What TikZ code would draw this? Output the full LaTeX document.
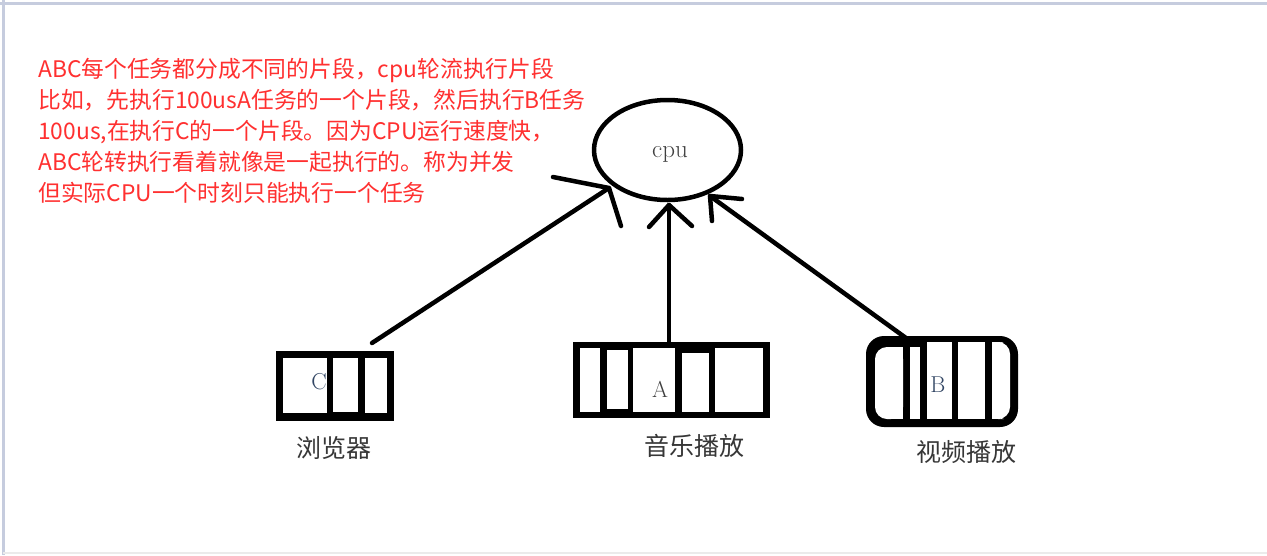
\documentclass[tikz,border=0pt]{standalone}
\usepackage{fontspec}
\newfontfamily\cjk{Noto Sans CJK SC}
\usetikzlibrary{shapes.geometric}
\definecolor{redtxt}{RGB}{255,48,48}
\definecolor{labeltxt}{RGB}{55,55,55}
\definecolor{lettertxt}{RGB}{50,70,100}
\definecolor{frame}{RGB}{198,204,222}
\tikzset{
  pen/.style={line width=4.5pt, line cap=round, line join=round, black},
  redline/.style={anchor=base west, inner sep=0pt, text=redtxt, font=\cjk\fontsize{22.8}{31}\selectfont},
  label/.style={inner sep=0pt, text=labeltxt, font=\cjk\fontsize{25}{25}\selectfont},
  letter/.style={inner sep=0pt, text=lettertxt, font=\fontsize{23}{23}\selectfont},
  cell/.style={fill=white},
}
\begin{document}
\begin{tikzpicture}[x=1pt,y=-1pt]
\useasboundingbox (0,0) rectangle (1267,555);
\fill[white] (0,0) rectangle (1267,555);
% window frame
\draw[frame, line width=3pt] (0,3) -- (1267,3);
\draw[frame, line width=3pt] (3,0) -- (3,555);
\draw[black!8, line width=1.5pt] (3,553) -- (1267,553);

% red explanation text
\node[redline] (t1) at (38,77) {ABC每个任务都分成不同的片段，cpu轮流执行片段};
\node[redline] (t2) at (38,108) {比如，先执行100usA任务的一个片段，然后执行B任务};
\node[redline] (t3) at (38,139) {100us,在执行C的一个片段。因为CPU运行速度快，};
\node[redline] (t4) at (38,170) {ABC轮转执行看着就像是一起执行的。称为并发};
\node[redline] (t5) at (38,201) {但实际CPU一个时刻只能执行一个任务};

% cpu
\node[draw, pen, ellipse, minimum width=147pt, minimum height=100pt, inner sep=0pt] (cpu) at (667.5,150) {};
\node[inner sep=0pt, text=black!75, font=\fontsize{25}{25}\selectfont] (cpulabel) at (670,154) {cpu};

% box C (browser)
\fill[black] (276,351) rectangle (394,421);
\fill[cell] (283,358) rectangle (327,413);
\fill[cell] (333,358) rectangle (358,412);
\fill[cell] (365,358) rectangle (387,413);
\node[letter] (C) at (319,382) {C};
\node[label] (lblC) at (334,448) {浏览器};

% box A (music)
\fill[black] (573,342) rectangle (770,418);
\fill[cell] (580,348) rectangle (600,412);
\fill[cell] (607,350) rectangle (628,409);
\fill[cell] (633,348) rectangle (675,412);
\fill[cell] (682,353) rectangle (709,412);
\fill[cell] (715,348) rectangle (763,412);
\node[letter, text=black!75] (A) at (660,389) {A};
\node[label] (lblA) at (694,446) {音乐播放};

% box B (video)
\fill[black, rounded corners=18pt] (866,336) rectangle (1018,427);
\fill[cell, rounded corners=12pt] (875,347) rectangle (903,419);
\fill[cell] (890,347) rectangle (903,419);
\fill[cell] (910,347) rectangle (920,419);
\fill[cell] (927,342) rectangle (952,419);
\fill[cell] (958,342) rectangle (985,419);
\fill[cell, rounded corners=12pt] (992,342) rectangle (1010,419);
\fill[cell] (992,342) rectangle (1000,419);
\node[letter] (B) at (938,385) {B};
\node[label] (lblB) at (966,452) {视频播放};

% arrows (hand drawn)
\coordinate (sC) at (372,343);
\coordinate (tipC) at (609,188);
\coordinate (hC1) at (553,177);
\coordinate (hC2) at (621,226);
\draw[pen] (sC) -- (tipC);
\draw[pen] (hC1) -- (tipC) -- (hC2);

\coordinate (sA) at (669,343);
\coordinate (tipA) at (669,205);
\coordinate (hA1) at (649,227);
\coordinate (hA2) at (692,226);
\draw[pen] (sA) -- (tipA);
\draw[pen] (hA1) -- (tipA) -- (hA2);

\coordinate (sB) at (906,338);
\coordinate (tipB) at (710,196);
\coordinate (hB1) at (742,199);
\coordinate (hB2) at (712,221);
\draw[pen] (sB) -- (tipB);
\draw[pen] (hB1) -- (tipB) -- (hB2);
\end{tikzpicture}
\end{document}
